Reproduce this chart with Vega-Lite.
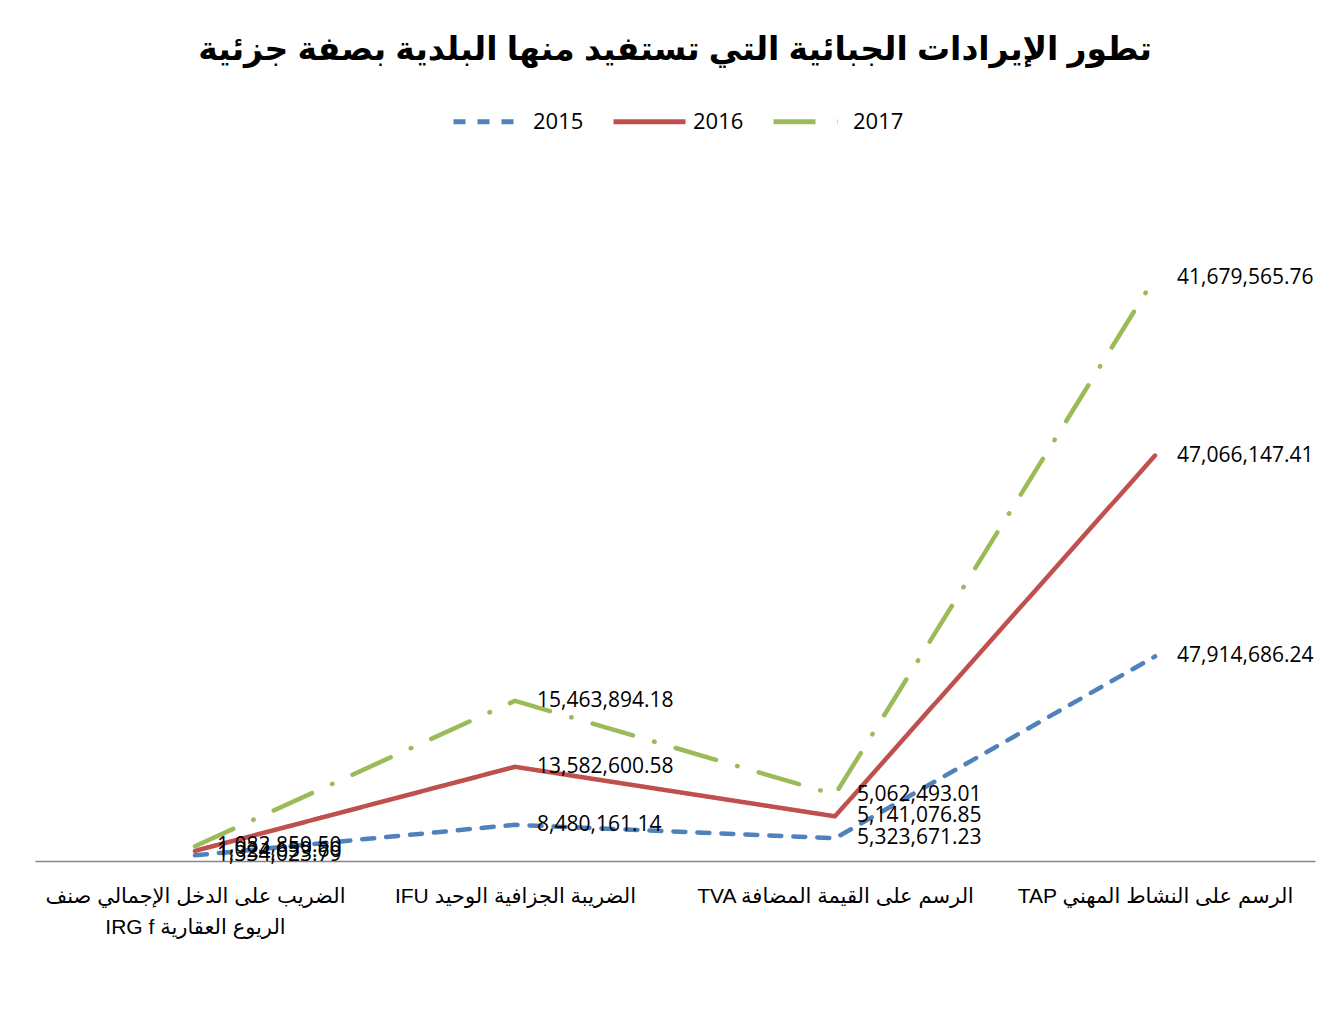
{
  "$schema": "https://vega.github.io/schema/vega-lite/v6.json",
  "autosize": "none",
  "width": 1280,
  "height": 683,
  "padding": {"left": 35, "top": 178, "right": 27, "bottom": 175},
  "background": "white",
  "title": {
    "text": "تطور الإيرادات الجبائية التي تستفيد منها البلدية بصفة جزئية",
    "font": "Liberation Sans, DejaVu Sans",
    "fontSize": 33,
    "fontWeight": "bold",
    "color": "#000000",
    "anchor": "middle",
    "offset": 16
  },
  "config": {
    "view": {"stroke": null},
    "font": "Open Sans"
  },
  "data": {
    "values": [
      {"category": "الضريب على الدخل الإجمالي صنف|IRG f الريوع العقارية", "year": "2015", "value": 1334023.79},
      {"category": "الضريب على الدخل الإجمالي صنف|IRG f الريوع العقارية", "year": "2016", "value": 1024659.60},
      {"category": "الضريب على الدخل الإجمالي صنف|IRG f الريوع العقارية", "year": "2017", "value": 1083859.50},
      {"category": "IFU الضريبة الجزافية الوحيد", "year": "2015", "value": 8480161.14},
      {"category": "IFU الضريبة الجزافية الوحيد", "year": "2016", "value": 13582600.58},
      {"category": "IFU الضريبة الجزافية الوحيد", "year": "2017", "value": 15463894.18},
      {"category": "TVA الرسم على القيمة المضافة", "year": "2015", "value": 5323671.23},
      {"category": "TVA الرسم على القيمة المضافة", "year": "2016", "value": 5141076.85},
      {"category": "TVA الرسم على القيمة المضافة", "year": "2017", "value": 5062493.01},
      {"category": "TAP الرسم على النشاط المهني", "year": "2015", "value": 47914686.24},
      {"category": "TAP الرسم على النشاط المهني", "year": "2016", "value": 47066147.41},
      {"category": "TAP الرسم على النشاط المهني", "year": "2017", "value": 41679565.76}
    ]
  },
  "transform": [
    {
      "window": [{"op": "sum", "field": "value", "as": "cum"}],
      "groupby": ["category"],
      "sort": [{"field": "year", "order": "ascending"}],
      "frame": [null, 0]
    }
  ],
  "encoding": {
    "x": {
      "field": "category",
      "type": "nominal",
      "sort": [
        "الضريب على الدخل الإجمالي صنف|IRG f الريوع العقارية",
        "IFU الضريبة الجزافية الوحيد",
        "TVA الرسم على القيمة المضافة",
        "TAP الرسم على النشاط المهني"
      ],
      "scale": {"type": "point", "padding": 0.5},
      "axis": {
        "title": null,
        "labelExpr": "split(datum.label, '|')",
        "labelFont": "Liberation Sans, DejaVu Sans",
        "labelFontSize": 21,
        "labelColor": "#000000",
        "labelLineHeight": 31,
        "labelPadding": 24,
        "labelAngle": 0,
        "labelLimit": 400,
        "ticks": false,
        "domainColor": "#868686",
        "domainWidth": 1.5,
        "grid": false
      }
    },
    "y": {
      "field": "cum",
      "type": "quantitative",
      "scale": {"domain": [0, 160000000]},
      "axis": null
    }
  },
  "layer": [
    {
      "mark": {"type": "line", "strokeWidth": 4.5, "strokeCap": "round", "strokeJoin": "round"},
      "encoding": {
        "color": {
          "field": "year",
          "type": "nominal",
          "scale": {"domain": ["2015", "2016", "2017"], "range": ["#4F81BD", "#C0504D", "#9BBB59"]},
          "legend": {
            "orient": "none",
            "legendX": 416,
            "legendY": -95,
            "direction": "horizontal",
            "title": null,
            "symbolType": "stroke",
            "symbolSize": 5184,
            "symbolStrokeWidth": 5,
            "labelFont": "Open Sans",
            "labelFontSize": 22,
            "labelColor": "#000000",
            "labelOffset": 5,
            "columnPadding": 19
          }
        },
        "strokeDash": {
          "field": "year",
          "type": "nominal",
          "scale": {"domain": ["2015", "2016", "2017"], "range": [[12, 12], [1, 0], [42, 22, 0.5, 22]]},
          "legend": {
            "orient": "none",
            "legendX": 416,
            "legendY": -95,
            "direction": "horizontal",
            "title": null,
            "symbolType": "stroke",
            "symbolSize": 5184,
            "symbolStrokeWidth": 5,
            "labelFont": "Open Sans",
            "labelFontSize": 22,
            "labelColor": "#000000",
            "labelOffset": 5,
            "columnPadding": 19
          }
        }
      }
    },
    {
      "mark": {"type": "text", "align": "left", "baseline": "middle", "dx": 22, "font": "Open Sans", "fontSize": 21, "color": "#000000"},
      "encoding": {
        "text": {"field": "value", "type": "quantitative", "format": ",.2f"},
        "detail": {"field": "year"}
      }
    }
  ]
}
